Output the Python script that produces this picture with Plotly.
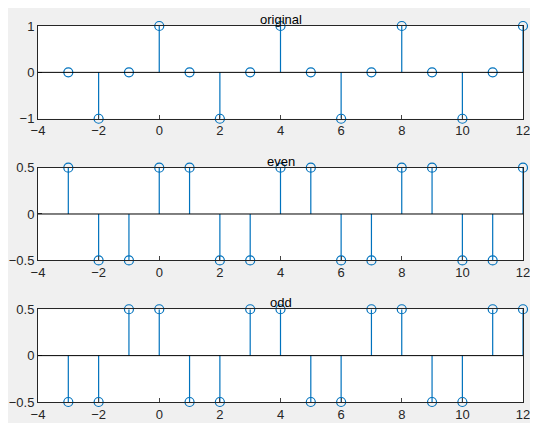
import plotly.graph_objects as go
from plotly.subplots import make_subplots

n = list(range(-3, 13))
original = [0, -1, 0, 1, 0, -1, 0, 1, 0, -1, 0, 1, 0, -1, 0, 1]
even = [0.5, -0.5, -0.5, 0.5, 0.5, -0.5, -0.5, 0.5, 0.5, -0.5, -0.5, 0.5, 0.5, -0.5, -0.5, 0.5]
odd = [-0.5, -0.5, 0.5, 0.5, -0.5, -0.5, 0.5, 0.5, -0.5, -0.5, 0.5, 0.5, -0.5, -0.5, 0.5, 0.5]
titles = ["original", "even", "odd"]
yticks = [[-1, 0, 1], [-0.5, 0, 0.5], [-0.5, 0, 0.5]]
yranges = [[-1, 1], [-0.5, 0.5], [-0.5, 0.5]]
xticks = [-4, -2, 0, 2, 4, 6, 8, 10, 12]

blue = "#0072bd"

fig = make_subplots(rows=3, cols=1, vertical_spacing=0.13)

for i, vals in enumerate([original, even, odd]):
    r = i + 1
    sfx = "" if r == 1 else str(r)
    sx, sy = [], []
    for x, y in zip(n, vals):
        sx += [x, x, None]
        sy += [0, y, None]
    fig.add_trace(go.Scatter(x=sx, y=sy, mode="lines", cliponaxis=False,
                             line=dict(color=blue, width=1.2)), row=r, col=1)
    fig.add_trace(go.Scatter(x=n, y=vals, mode="markers", cliponaxis=False,
                             marker=dict(symbol="circle-open", size=9,
                                         color=blue, line=dict(width=1.2))),
                  row=r, col=1)
    fig.add_shape(type="line", xref=f"x{sfx} domain", yref=f"y{sfx}",
                  x0=0, x1=1, y0=0, y1=0, line=dict(color="black", width=1))
    fig.update_xaxes(range=[-4, 12], tickvals=xticks, row=r, col=1)
    fig.update_yaxes(range=yranges[i], tickvals=yticks[i], row=r, col=1)
    fig.add_annotation(text=titles[i], xref=f"x{sfx} domain",
                       yref=f"y{sfx} domain", x=0.5, y=1, yshift=-3,
                       yanchor="bottom", showarrow=False,
                       font=dict(size=13, color="black"))

fig.update_xaxes(showgrid=False, zeroline=False, showline=True, mirror=True,
                 linecolor="#262626", ticks="inside", ticklen=4,
                 tickfont=dict(size=13, color="#262626"))
fig.update_yaxes(showgrid=False, zeroline=False, showline=True, mirror=True,
                 linecolor="#262626", ticks="inside", ticklen=4,
                 tickfont=dict(size=13, color="#262626"))

fig.update_layout(width=538, height=423, showlegend=False,
                  paper_bgcolor="#f0f0f0", plot_bgcolor="white",
                  margin=dict(l=30, r=23, t=18, b=29, autoexpand=False),
                  font=dict(family="Arial, Liberation Sans"))

fig.write_html("out.html")
